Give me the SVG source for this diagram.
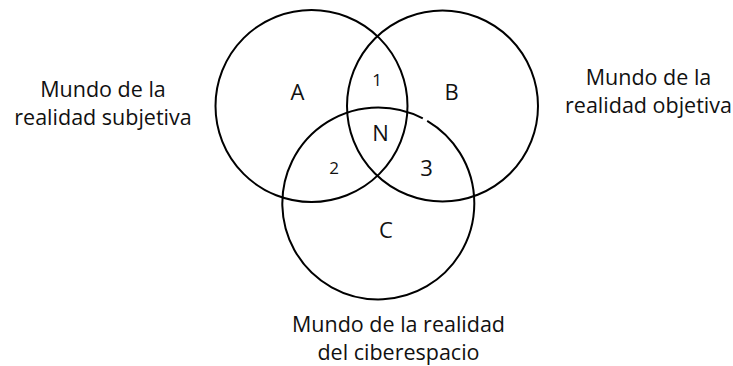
<svg xmlns="http://www.w3.org/2000/svg" width="733" height="366" viewBox="0 0 733 366">
<style>
.c{fill:none;stroke:#000;stroke-width:2}
.t{font-family:"Open Sans","Noto Sans","DejaVu Sans",sans-serif;font-size:21.5px;fill:#111;text-anchor:middle}
.l{font-family:"Open Sans","Noto Sans","DejaVu Sans",sans-serif;font-size:22px;fill:#111;text-anchor:middle}
.n{font-family:"Open Sans","Noto Sans","DejaVu Sans",sans-serif;font-size:17px;fill:#111;text-anchor:middle}
</style>
<rect width="733" height="366" fill="#fff"/>
<g id="circleA"><circle class="c" cx="311.5" cy="106" r="96"/></g>
<g id="circleB"><circle class="c" cx="442.5" cy="106" r="95.5"/></g>
<g id="circleC"><path class="c" d="M 427.2 120.8 A 96 96 0 1 1 422.8 118.35"/></g>
<g id="regions">
<text class="l" x="297.5" y="100">A</text>
<text class="l" x="451.5" y="100">B</text>
<text class="l" x="386" y="238">C</text>
<text class="l" x="380.5" y="141">N</text>
<text class="n" x="377" y="86">1</text>
<text class="n" x="334" y="174">2</text>
<text class="l" x="426.5" y="176">3</text>
</g>
<g id="labelSubjetiva">
<text class="t" x="103" y="97">Mundo de la</text>
<text class="t" x="103" y="125">realidad subjetiva</text>
</g>
<g id="labelObjetiva">
<text class="t" x="648.5" y="85">Mundo de la</text>
<text class="t" x="648.5" y="113">realidad objetiva</text>
</g>
<g id="labelCiberespacio">
<text class="t" x="398.5" y="332">Mundo de la realidad</text>
<text class="t" x="398.5" y="360">del ciberespacio</text>
</g>
</svg>
